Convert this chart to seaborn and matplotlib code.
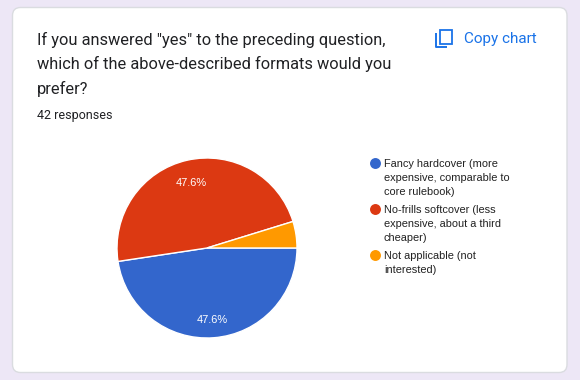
import matplotlib
matplotlib.use('Agg')
import matplotlib.pyplot as plt
from matplotlib.patches import FancyBboxPatch, Rectangle
import seaborn as sns

# Chart data
answers = ['Fancy hardcover (more\nexpensive, comparable to\ncore rulebook)',
           'No-frills softcover (less\nexpensive, about a third\ncheaper)',
           'Not applicable (not\ninterested)']
counts = [20, 20, 2]
slice_colors = ['#3366cc', '#dc3912', '#ff9900']
title_lines = ['If you answered "yes" to the preceding question,',
               'which of the above-described formats would you',
               'prefer?']
responses = '42 responses'
copy_label = 'Copy chart'

sns.set_theme(style='white')
plt.rcParams['font.family'] = ['Roboto', 'DejaVu Sans']

W, H = 580, 380
fig = plt.figure(figsize=(W / 100, H / 100), dpi=100, facecolor='#ede7f6')

# overlay in pixel coordinates for the card and text
bg = fig.add_axes([0, 0, 1, 1])
bg.set_xlim(0, W)
bg.set_ylim(H, 0)
bg.axis('off')
card = FancyBboxPatch((12.5, 7.5), 554.5, 365, boxstyle='round,pad=0,rounding_size=8',
                      facecolor='white', edgecolor='#dadce0', linewidth=1)
bg.add_patch(card)

for i, line in enumerate(title_lines):
    bg.text(37, 40 + i * 24.4, line, fontsize=11.8, color='#202124', va='center', ha='left')
bg.text(37, 115.5, responses, fontsize=9.0, color='#202124', va='center', ha='left')

# copy icon
blue = '#1a73e8'
bg.add_patch(Rectangle((440, 29.5), 11.5, 14.5, fill=False, edgecolor=blue, linewidth=1.3))
bg.plot([436, 436, 447], [33, 47, 47], color=blue, linewidth=1.4, solid_capstyle='butt')
bg.text(464, 38.5, copy_label, fontsize=11.0, color=blue, va='center', ha='left')

# legend
legend_y = [163, 209, 255]
for y, label, color in zip(legend_y, answers, slice_colors):
    bg.scatter([374.5], [y], s=62, color=color, linewidths=0, zorder=3)
    bg.text(384, y - 4, label, fontsize=7.95, family=['Liberation Sans'], color='#222222',
            va='top', ha='left', linespacing=1.52)

# pie, 90 px radius centred on (207, 248)
cx, cy, r = 207, 248, 90
pie_ax = fig.add_axes([(cx - r) / W, 1 - (cy + r) / H, 2 * r / W, 2 * r / H])
wedges, _, autotexts = pie_ax.pie(
    counts, colors=slice_colors, startangle=0, counterclock=False, radius=1,
    autopct=lambda p: f'{p:.1f}%' if p > 10 else '', pctdistance=0.77,
    wedgeprops={'edgecolor': 'white', 'linewidth': 1},
    textprops={'color': 'white', 'fontsize': 7.95, 'family': ['Liberation Sans']})
for t in autotexts:
    t.set_y(t.get_position()[1] - 0.03)
pie_ax.set_xlim(-1, 1)
pie_ax.set_ylim(-1, 1)
pie_ax.patch.set_alpha(0)

fig.savefig('out.png', dpi=100, facecolor=fig.get_facecolor())
